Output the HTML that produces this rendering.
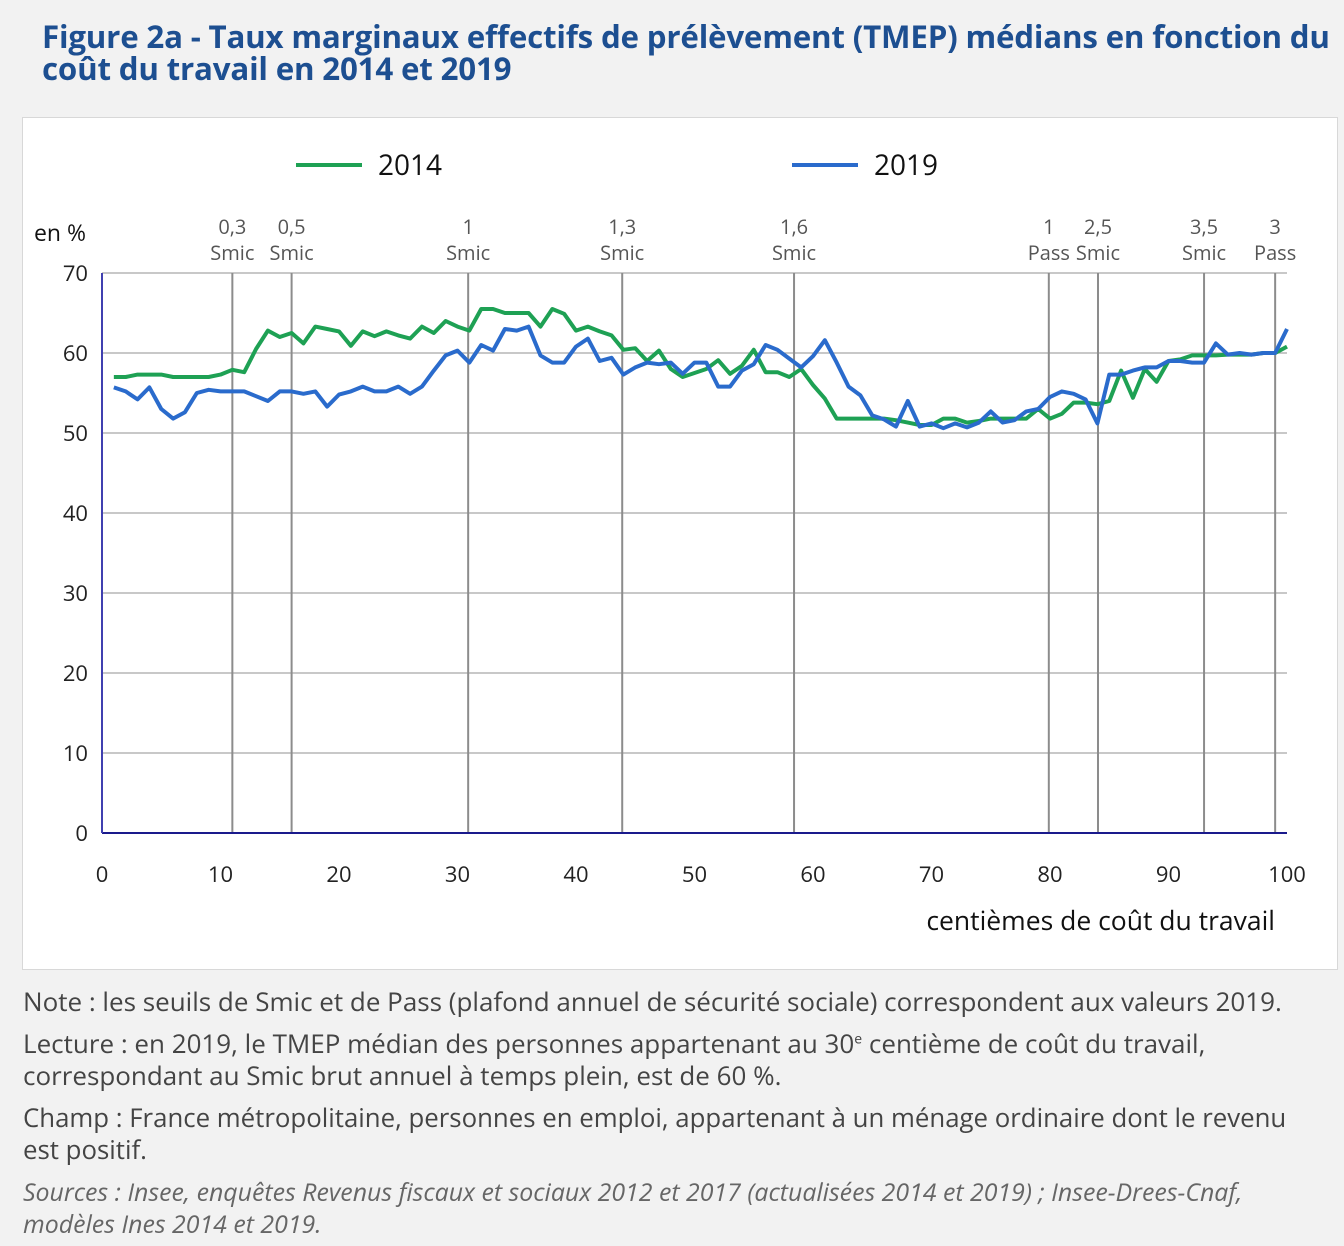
<!DOCTYPE html>
<html><head><meta charset="utf-8"><style>
body{margin:0;width:1344px;height:1246px;background:#f2f2f2;font-family:"Open Sans","Liberation Sans","DejaVu Sans",sans-serif;position:relative;overflow:hidden}
.t{position:absolute;left:42px;top:21px;font-size:31.3px;font-weight:bold;color:#1d4f91;line-height:32px;letter-spacing:-0.2px;white-space:nowrap}
.box{position:absolute;left:22px;top:117px;width:1314px;height:851px;background:#fff;border:1px solid #d8d8d8}
.n{position:absolute;left:23px;font-size:26px;color:#444;line-height:32px;white-space:nowrap}
sup{line-height:0;font-size:14px}
svg text{font-family:"Open Sans","Liberation Sans","DejaVu Sans",sans-serif}
</style></head><body>
<div class="t">Figure 2a - Taux marginaux effectifs de prélèvement (TMEP) médians en fonction du<br>coût du travail en 2014 et 2019</div>
<div class="box"></div>
<svg id="c" width="1344" height="1246" style="position:absolute;left:0;top:0"></svg>
<div class="n" style="top:985px">Note : les seuils de Smic et de Pass (plafond annuel de sécurité sociale) correspondent aux valeurs 2019.</div>
<div class="n" style="top:1027px">Lecture : en 2019, le TMEP médian des personnes appartenant au 30<sup>e</sup> centième de coût du travail,<br>correspondant au Smic brut annuel à temps plein, est de 60 %.</div>
<div class="n" style="top:1101px;font-size:25.8px">Champ : France métropolitaine, personnes en emploi, appartenant à un ménage ordinaire dont le revenu<br>est positif.</div>
<div class="n" style="top:1176px;font-style:italic;color:#666;font-size:24.9px">Sources : Insee, enquêtes Revenus fiscaux et sociaux 2012 et 2017 (actualisées 2014 et 2019) ; Insee-Drees-Cnaf,<br>modèles Ines 2014 et 2019.</div>
<script>
const v2014=[57,57,57.3,57.3,57.3,57,57,57,57,57.3,57.9,57.6,60.5,62.8,62,62.5,61.2,63.3,63,62.7,60.9,62.7,62.1,62.7,62.2,61.8,63.3,62.5,64,63.3,62.8,65.5,65.5,65,65,65,63.3,65.5,64.9,62.8,63.3,62.7,62.2,60.4,60.6,59,60.3,58,57,57.5,58,59.1,57.4,58.4,60.4,57.6,57.6,57,58,56,54.3,51.8,51.8,51.8,51.8,51.8,51.6,51.3,51,51,51.8,51.8,51.3,51.5,51.8,51.8,51.8,51.8,53,51.8,52.4,53.8,53.8,53.6,54,57.8,54.4,58,56.4,59,59.2,59.7,59.7,59.7,59.8,59.8,59.8,60,60,60.8];
const v2019=[55.7,55.2,54.2,55.7,53,51.8,52.6,55,55.4,55.2,55.2,55.2,54.6,54,55.2,55.2,54.9,55.2,53.3,54.8,55.2,55.8,55.2,55.2,55.8,54.9,55.8,57.8,59.7,60.3,58.8,61,60.3,63,62.8,63.3,59.7,58.8,58.8,60.8,61.8,59,59.4,57.3,58.2,58.8,58.6,58.8,57.4,58.8,58.8,55.8,55.8,57.8,58.6,61,60.4,59.3,58.2,59.6,61.6,58.8,55.8,54.7,52.2,51.7,50.8,54,50.8,51.2,50.6,51.2,50.7,51.3,52.7,51.3,51.6,52.7,53,54.5,55.2,54.9,54.2,51.2,57.3,57.3,57.8,58.2,58.2,59,59,58.8,58.8,61.2,59.8,60,59.8,60,60,63];
const thresholdPos=[11,16,30.9,43.9,58.4,79.9,84.05,93,99];
const thresholdTop=["0,3","0,5","1","1,3","1,6","1","2,5","3,5","3"];
const thresholdBot=["Smic","Smic","Smic","Smic","Smic","Pass","Smic","Smic","Pass"];
const yTicks=[0,10,20,30,40,50,60,70];
const xTicks=[0,10,20,30,40,50,60,70,80,90,100];
const svg=document.getElementById('c'),NS='http://www.w3.org/2000/svg';
const X=v=>102+v*11.85, Y=v=>833-v*8;
function mk(t,a,txt){const e=document.createElementNS(NS,t);for(const k in a)e.setAttribute(k,a[k]);if(txt!=null)e.textContent=txt;svg.appendChild(e);return e;}
yTicks.forEach(t=>{
 const l=mk('line',{x1:102,x2:1287,y1:Y(t),y2:Y(t),stroke:'#a6a6a6','stroke-width':1.3});
 
 
 const tx=mk('text',{x:88,y:Y(t)+8,'text-anchor':'end','font-size':22,fill:'#222'},t);
 
 
});
xTicks.forEach(t=>{
 const tx=mk('text',{x:X(t),y:882,'text-anchor':'middle','font-size':22,fill:'#222'},t);
 
 
});
thresholdPos.forEach((p,i)=>{
 const l=mk('line',{x1:X(p),x2:X(p),y1:273,y2:833,stroke:'#8c8c8c','stroke-width':2});
 
 
 const a=mk('text',{x:X(p),y:234,'text-anchor':'middle','font-size':20,fill:'#555'},thresholdTop[i]);
 
 
 const b=mk('text',{x:X(p),y:260,'text-anchor':'middle','font-size':20,fill:'#555'},thresholdBot[i]);
 
 
});
const ax=mk('line',{x1:102,x2:1287,y1:833,y2:833,stroke:'#1a1a8c','stroke-width':2});


const ay=mk('line',{x1:102,x2:102,y1:273,y2:833,stroke:'#4040b0','stroke-width':2});


function series(vals,col,name){
 const p=mk('polyline',{points:vals.map((v,i)=>X(i+1)+','+Y(v)).join(' '),fill:'none',stroke:col,'stroke-width':4,'stroke-linejoin':'round'});
 
 
}
series(v2014,'#1ea154','line-2014');
series(v2019,'#2a6bcc','line-2019');
const lg=[[296,'#1ea154','2014'],[792,'#2a6bcc','2019']];
lg.forEach(([x,c,t])=>{
 const l=mk('line',{x1:x,x2:x+66,y1:165,y2:165,stroke:c,'stroke-width':4});
 
 
 const tx=mk('text',{x:x+82,y:175,'font-size':28,fill:'#111'},t);
 
 
});
const yl=mk('text',{x:34,y:241,'font-size':23,fill:'#111'},'en %');


const xl=mk('text',{x:1275,y:930,'text-anchor':'end','font-size':26.5,fill:'#111'},'centièmes de coût du travail');


</script>
</body></html>
